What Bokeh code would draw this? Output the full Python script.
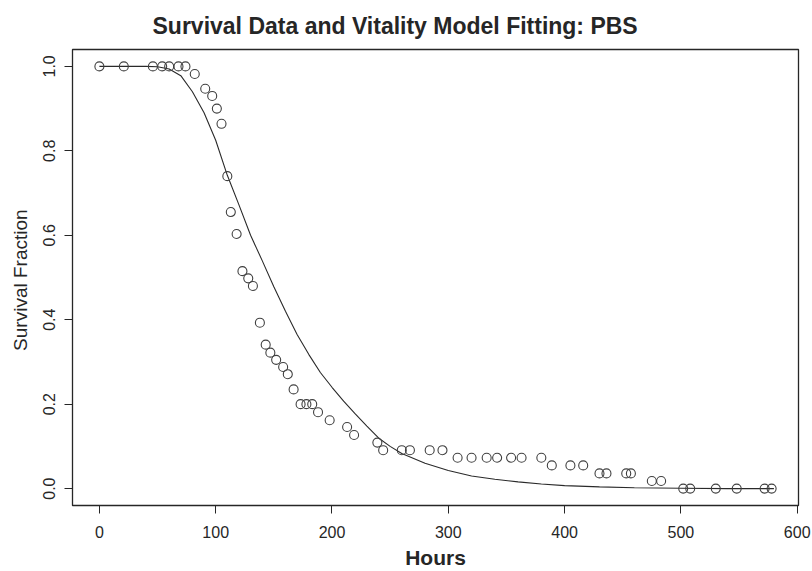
from bokeh.plotting import figure
from bokeh.models import FixedTicker, PrintfTickFormatter, Range1d, ColumnDataSource
from bokeh.embed import file_html
from bokeh.resources import INLINE

# Observed survival data (hours, survival fraction)
hours = [0, 21, 46, 54, 60, 68, 74, 82, 91, 97, 101, 105, 110, 113, 118, 123, 128, 132,
         138, 143, 147, 152, 158, 162, 167, 173, 178, 183, 188, 198, 213, 219, 239, 244,
         260, 267, 284, 295, 308, 320, 333, 342, 354, 363, 380, 389, 405, 416, 430, 436,
         453, 457, 475, 483, 502, 508, 530, 548, 572, 578]
survival = [1.0, 1.0, 1.0, 1.0, 1.0, 1.0, 1.0, 0.982, 0.947, 0.93, 0.9, 0.864, 0.74,
            0.655, 0.603, 0.515, 0.498, 0.48, 0.393, 0.341, 0.322, 0.305, 0.288, 0.271,
            0.235, 0.2, 0.2, 0.2, 0.181, 0.162, 0.146, 0.127, 0.109, 0.091, 0.091, 0.091,
            0.091, 0.091, 0.073, 0.073, 0.073, 0.073, 0.073, 0.073, 0.073, 0.055, 0.055,
            0.055, 0.036, 0.036, 0.036, 0.036, 0.018, 0.018, 0.0, 0.0, 0.0, 0.0, 0.0, 0.0]

# Fitted vitality model curve
model_hours = [0, 40, 50, 60, 70, 80, 90, 100, 110, 120, 130, 140, 150, 160, 170, 180,
               190, 200, 210, 220, 230, 240, 250, 260, 280, 300, 320, 340, 360, 380, 400,
               430, 460, 500, 540, 580]
model_survival = [1.0, 1.0, 0.999, 0.994, 0.978, 0.94, 0.89, 0.825, 0.742, 0.672, 0.6,
                  0.54, 0.478, 0.42, 0.365, 0.318, 0.275, 0.24, 0.207, 0.177, 0.148,
                  0.12, 0.1, 0.083, 0.06, 0.043, 0.03, 0.022, 0.016, 0.011, 0.007,
                  0.004, 0.002, 0.001, 0.0, 0.0]

x_ticks = [0, 100, 200, 300, 400, 500, 600]
y_ticks = [0.0, 0.2, 0.4, 0.6, 0.8, 1.0]

title_text = "Survival Data and Vitality Model Fitting:  PBS"
x_label = "Hours"
y_label = "Survival  Fraction"

INK = "#262626"

p = figure(width=812, height=571, output_backend="svg", toolbar_location=None,
           x_range=Range1d(-23.12, 601.12), y_range=Range1d(-0.04, 1.04),
           min_border_left=72, min_border_right=14, min_border_top=49, min_border_bottom=66,
           title=title_text)

p.title.align = "left"
p.title.offset = 80
p.title.text_font = "Liberation Sans"
p.title.text_font_style = "bold"
p.title.text_font_size = "23px"
p.title.text_color = INK
p.title.standoff = 21

p.background_fill_color = "white"
p.border_fill_color = "white"
p.outline_line_color = INK
p.outline_line_width = 1.3
p.xgrid.visible = False
p.ygrid.visible = False

src_pts = ColumnDataSource(dict(x=hours, y=survival))
src_fit = ColumnDataSource(dict(x=model_hours, y=model_survival))

p.line("x", "y", source=src_fit, line_color="#2a2a2a", line_width=1.1)
p.scatter("x", "y", source=src_pts, marker="circle", size=9, fill_color=None,
          line_color="#404040", line_width=1.1)

xa = p.xaxis[0]
xa.ticker = FixedTicker(ticks=x_ticks)
xa.axis_label = x_label
xa.axis_label_text_font = "Liberation Sans"
xa.axis_label_text_font_style = "bold"
xa.axis_label_text_font_size = "21px"
xa.axis_label_text_color = INK
xa.axis_label_standoff = 5
xa.major_label_text_font = "Liberation Sans"
xa.major_label_text_font_size = "16px"
xa.major_label_text_color = INK
xa.major_label_standoff = 12
xa.major_tick_out = 8
xa.major_tick_in = 0
xa.minor_tick_out = 0
xa.minor_tick_in = 0
xa.axis_line_color = INK
xa.major_tick_line_color = INK

ya = p.yaxis[0]
ya.ticker = FixedTicker(ticks=y_ticks)
ya.formatter = PrintfTickFormatter(format="%.1f")
ya.axis_label = y_label
ya.axis_label_text_font = "Liberation Sans"
ya.axis_label_text_font_style = "normal"
ya.axis_label_text_font_size = "19px"
ya.axis_label_text_color = INK
ya.axis_label_standoff = 10
ya.major_label_orientation = "vertical"
ya.major_label_text_font = "Liberation Sans"
ya.major_label_text_font_size = "16px"
ya.major_label_text_color = INK
ya.major_label_standoff = 9
ya.major_tick_out = 8
ya.major_tick_in = 0
ya.minor_tick_out = 0
ya.minor_tick_in = 0
ya.axis_line_color = INK
ya.major_tick_line_color = INK

open("out.html", "w").write(file_html(p, INLINE))
